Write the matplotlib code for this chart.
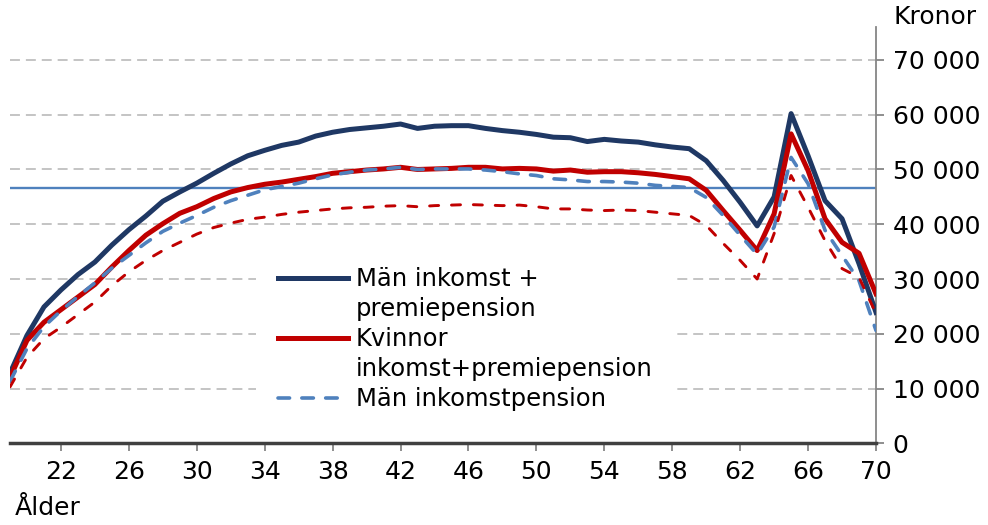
import matplotlib
matplotlib.use("Agg")
import matplotlib.pyplot as plt
from matplotlib.lines import Line2D

plt.rcParams['font.family'] = ['DejaVu Sans']

# ålder 19-70
ages = list(range(19, 71))

man_ink_premie = [12800, 19700, 24900, 28000, 30800, 33100, 36200, 39000, 41500, 44200,
                  45900, 47500, 49300, 51000, 52500, 53500, 54400, 55000, 56100, 56800,
                  57300, 57600, 57900, 58300, 57500, 57900, 58000, 58000, 57500, 57100,
                  56800, 56400, 55900, 55800, 55100, 55500, 55200, 55000, 54500, 54100,
                  53800, 51600, 48000, 44000, 39700, 45000, 60200, 52500, 44300, 41000,
                  32800, 23900]

kv_ink_premie = [12000, 18800, 22100, 24400, 26700, 29000, 32200, 35200, 38000, 40100,
                 42000, 43200, 44700, 45900, 46700, 47300, 47700, 48200, 48700, 49300,
                 49600, 49900, 50100, 50400, 50000, 50100, 50200, 50400, 50400, 50100,
                 50200, 50100, 49700, 49900, 49500, 49600, 49600, 49400, 49100, 48700,
                 48300, 46200, 42500, 38900, 35200, 41900, 56500, 49800, 41000, 36700,
                 34700, 27300]

man_ink = [11300, 17300, 21300, 24200, 26800, 29300, 32000, 34300, 36600, 38700,
           40200, 41600, 43100, 44300, 45300, 46300, 46900, 47500, 48300, 49000,
           49500, 49900, 50100, 50400, 50000, 50100, 50100, 50100, 49900, 49600,
           49200, 48900, 48300, 48100, 47800, 47800, 47700, 47500, 47100, 46900,
           46700, 44900, 41600, 38000, 34500, 39500, 52200, 47400, 38900, 34300,
           29700, 20600]

kv_ink = [10300, 15700, 19100, 21200, 23500, 25800, 28800, 31300, 33400, 35200,
          36700, 38200, 39400, 40200, 40900, 41300, 41800, 42200, 42500, 42800,
          43000, 43100, 43300, 43400, 43200, 43400, 43500, 43600, 43500, 43400,
          43500, 43200, 42800, 42800, 42600, 42500, 42600, 42500, 42200, 41900,
          41600, 39800, 36500, 33400, 30000, 38300, 48900, 43100, 37000, 31900,
          30300, 23700]

genomsnitt = 46700

y_ticks = list(range(0, 70001, 10000))
x_ticks = list(range(22, 71, 4))

fig = plt.figure(figsize=(9.88, 5.25), dpi=100)
ax = fig.add_axes([10/988, 1 - 443.3/525, 866/988, 416.2/525])

ax.axhline(genomsnitt, color="#4F81BD", lw=1.7, zorder=2)
l1, = ax.plot(ages, man_ink_premie, color="#1F3864", lw=3.6, zorder=3,
              solid_joinstyle="round")
l2, = ax.plot(ages, kv_ink_premie, color="#C00000", lw=3.6, zorder=4,
              solid_joinstyle="round")
l3, = ax.plot(ages, man_ink, color="#4F81BD", lw=2.6, zorder=5,
              dashes=(3.2, 3.4), dash_capstyle="round")
l4, = ax.plot(ages, kv_ink, color="#C00000", lw=2.1, zorder=6,
              dashes=(3.1, 4.4), dash_capstyle="round")

ax.set_xlim(19, 70)
ax.set_ylim(0, 76000)

# axlar
ax.yaxis.tick_right()
ax.spines["left"].set_visible(False)
ax.spines["top"].set_visible(False)
ax.spines["right"].set_color("#868686")
ax.spines["right"].set_linewidth(1.3)
ax.spines["bottom"].set_color("#404040")
ax.spines["bottom"].set_linewidth(2.5)

ax.set_yticks(y_ticks)
ax.set_yticklabels([f"{v:,}".replace(",", "\u00a0") for v in y_ticks])
ax.set_xticks(x_ticks)
ax.tick_params(axis="both", labelsize=18, colors="#868686", labelcolor="black",
               length=6, width=1.3, direction="out")
ax.tick_params(axis="y", pad=6)
ax.tick_params(axis="x", pad=6)

ax.yaxis.grid(True, color="#BFBFBF", lw=1.3, linestyle=(0, (5.5, 3.3)))
ax.set_axisbelow(True)

blank = Line2D([], [], color="none")
leg = ax.legend([l1, blank, l2, blank, l3],
                ["Män inkomst +", "premiepension", "Kvinnor",
                 "inkomst+premiepension", "Män inkomstpension"],
                loc="upper left", bbox_to_anchor=(0.27, 0.505),
                fontsize=17.5, frameon=True, fancybox=False, framealpha=1,
                edgecolor="none", facecolor="white", handlelength=2.9,
                handletextpad=0.3, labelspacing=0.25, borderpad=0.9)
leg.set_zorder(10)

fig.text(15/988, 1 - 508/525, "Ålder", fontsize=18, ha="left", va="center")
fig.text(893/988, 1 - 17/525, "Kronor", fontsize=18, ha="left", va="center")

plt.savefig("out.png", dpi=100)
